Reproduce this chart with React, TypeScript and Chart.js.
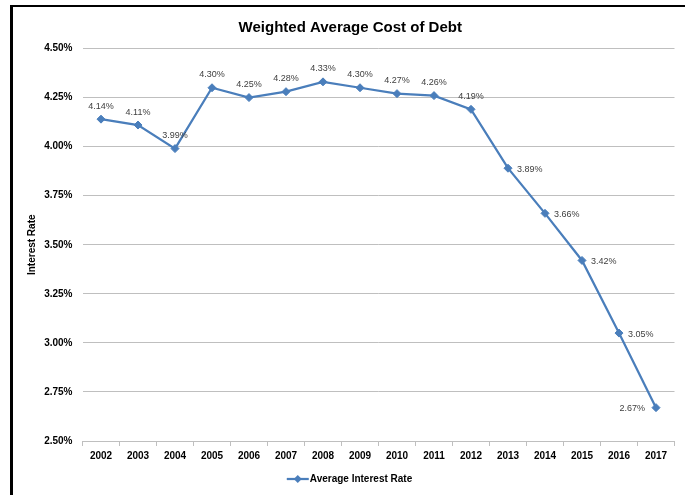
import React, { useEffect, useRef } from "react";
import { Chart, registerables } from "chart.js";

Chart.register(...registerables);

const years = ["2002","2003","2004","2005","2006","2007","2008","2009","2010","2011","2012","2013","2014","2015","2016","2017"];
const averageInterestRate = [4.14, 4.11, 3.99, 4.30, 4.25, 4.28, 4.33, 4.30, 4.27, 4.26, 4.19, 3.89, 3.66, 3.42, 3.05, 2.67];
const seriesName = "Average Interest Rate";
const chartTitle = "Weighted Average Cost of Debt";
const yAxisTitle = "Interest Rate";

const FONT = "'Liberation Sans', Arial, sans-serif";
const BLUE = "#4A7EBB";

const labelPlugin = {
  id: "pointLabels",
  afterDatasetsDraw(chart: any) {
    const ctx = chart.ctx;
    const meta = chart.getDatasetMeta(0);
    const vals = chart.data.datasets[0].data as number[];
    const n = vals.length;
    ctx.save();
    ctx.font = `9px ${FONT}`;
    ctx.fillStyle = "#404040";
    ctx.textBaseline = "middle";
    meta.data.forEach((pt: any, i: number) => {
      const txt = vals[i].toFixed(2) + "%";
      if (i === n - 1) {
        ctx.textAlign = "right";
        ctx.fillText(txt, pt.x - 11, pt.y + 1);
      } else if (i >= 11) {
        ctx.textAlign = "left";
        ctx.fillText(txt, pt.x + 9, pt.y + 1);
      } else {
        ctx.textAlign = "center";
        ctx.fillText(txt, pt.x, pt.y - 13);
      }
    });
    ctx.restore();
  },
  afterDraw(chart: any) {
    const ctx = chart.ctx;
    ctx.save();
    ctx.font = `bold 10px ${FONT}`;
    const label = chart.data.datasets[0].label as string;
    const tw = ctx.measureText(label).width;
    const lineW = 22;
    const total = lineW + 1 + tw;
    const x0 = chart.width / 2 + 7 - total / 2;
    const y = 479;
    ctx.strokeStyle = BLUE;
    ctx.lineWidth = 2.25;
    ctx.beginPath();
    ctx.moveTo(x0, y);
    ctx.lineTo(x0 + lineW, y);
    ctx.stroke();
    const cx = x0 + lineW / 2;
    ctx.fillStyle = BLUE;
    ctx.beginPath();
    ctx.moveTo(cx, y - 4);
    ctx.lineTo(cx + 4, y);
    ctx.lineTo(cx, y + 4);
    ctx.lineTo(cx - 4, y);
    ctx.closePath();
    ctx.fill();
    ctx.fillStyle = "#000";
    ctx.textAlign = "left";
    ctx.textBaseline = "middle";
    ctx.fillText(label, x0 + lineW + 1, y);
    ctx.restore();
  },
};

export default function App() {
  const ref = useRef<HTMLCanvasElement | null>(null);
  useEffect(() => {
    if (!ref.current) return;
    const chart = new Chart(ref.current, {
      type: "line",
      data: {
        labels: years,
        datasets: [
          {
            label: seriesName,
            data: averageInterestRate,
            borderColor: BLUE,
            backgroundColor: BLUE,
            borderWidth: 2.25,
            pointStyle: "rectRot",
            pointRadius: 4,
            pointBackgroundColor: BLUE,
            pointBorderColor: BLUE,
            pointBorderWidth: 1,
            tension: 0,
          },
        ],
      },
      options: {
        responsive: false,
        animation: false,
        layout: { padding: { left: 26, right: 10.5, top: 0, bottom: 24 } },
        plugins: {
          legend: { display: false },
          tooltip: { enabled: false },
          title: {
            display: true,
            text: chartTitle,
            color: "#000",
            font: { family: FONT, size: 15, weight: "bold" },
            padding: { top: 19, bottom: 11.5 },
          },
        },
        scales: {
          x: {
            offset: true,
            grid: {
              display: true,
              drawOnChartArea: false,
              drawTicks: true,
              tickLength: 5,
              offset: true,
              color: "#BFBFBF",
            },
            border: { display: true, color: "#BFBFBF" },
            ticks: {
              color: "#000",
              font: { family: FONT, size: 10, weight: "bold" },
              padding: 4,
              maxRotation: 0,
              autoSkip: false,
            },
            afterFit(scale: any) {
              scale.height = 30;
            },
          },
          y: {
            min: 2.5,
            max: 4.5,
            grid: { color: "#BFBFBF", drawTicks: false },
            border: { display: false },
            ticks: {
              stepSize: 0.25,
              color: "#000",
              padding: 10,
              font: { family: FONT, size: 10, weight: "bold" },
              callback: (v: any) => Number(v).toFixed(2) + "%",
            },
            title: {
              display: true,
              text: yAxisTitle,
              color: "#000",
              font: { family: FONT, size: 10, weight: "bold" },
              padding: 0,
            },
            afterFit(scale: any) {
              scale.width = 56.5;
            },
          },
        },
      },
      plugins: [labelPlugin],
    });
    return () => chart.destroy();
  }, []);

  return (
    <div style={{ position: "fixed", left: 0, top: 0, width: 685, height: 495, background: "#fff" }}>
      <div
        style={{
          position: "absolute",
          left: 10,
          top: 5,
          width: 675,
          height: 490,
          borderLeft: "3px solid #000",
          borderTop: "2.5px solid #000",
          boxSizing: "border-box",
        }}
      />
      <canvas ref={ref} width={685} height={495} style={{ position: "absolute", left: 0, top: 0 }} />
    </div>
  );
}
